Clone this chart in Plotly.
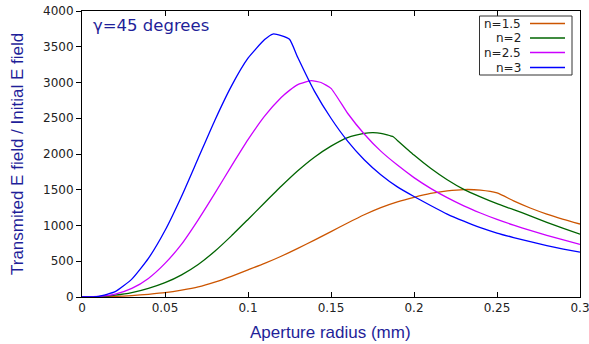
import plotly.graph_objects as go

# ---- data ----
series_names = ["n=1.5", "n=2", "n=2.5", "n=3"]
series_colors = ["#cc5500", "#006400", "#cc00ff", "#0000ff"]

x_n15 = [0, 0.01, 0.02, 0.03, 0.04, 0.05, 0.06, 0.07, 0.08, 0.09, 0.10, 0.11, 0.12, 0.13,
         0.14, 0.15, 0.16, 0.17, 0.18, 0.19, 0.20, 0.21, 0.22, 0.23, 0.24, 0.25,
         0.26, 0.27, 0.28, 0.29, 0.30]
y_n15 = [0, 2, 8, 20, 38, 60, 95, 140, 208, 290, 380, 470, 570, 680,
         795, 915, 1035, 1150, 1250, 1330, 1395, 1450, 1485, 1503, 1495, 1455,
         1345, 1245, 1160, 1087, 1021]

x_n2 = [0, 0.01, 0.02, 0.03, 0.04, 0.05, 0.06, 0.07, 0.08, 0.09, 0.10, 0.11, 0.12, 0.13,
        0.14, 0.15, 0.16, 0.17, 0.175, 0.18, 0.1875, 0.19, 0.20, 0.21, 0.22, 0.23, 0.24,
        0.25, 0.26, 0.27, 0.28, 0.29, 0.30]
y_n2 = [0, 5, 25, 60, 120, 200, 310, 455, 640, 855, 1085, 1318, 1548, 1765,
        1955, 2110, 2230, 2288, 2298, 2290, 2242, 2190, 1985, 1800, 1640, 1505, 1400,
        1305, 1222, 1135, 1045, 960, 878]

x_n25 = [0, 0.01, 0.02, 0.03, 0.04, 0.05, 0.06, 0.07, 0.08, 0.09, 0.10, 0.11, 0.12, 0.125,
         0.13, 0.138, 0.144, 0.15, 0.16, 0.17, 0.18, 0.19, 0.20, 0.21, 0.22, 0.23, 0.24,
         0.25, 0.26, 0.27, 0.28, 0.29, 0.30]
y_n25 = [0, 8, 40, 120, 260, 470, 740, 1080, 1450, 1830, 2200, 2530, 2790, 2890,
         2970, 3025, 3000, 2918, 2570, 2280, 2040, 1845, 1670, 1520, 1390, 1275, 1175,
         1085, 1005, 931, 863, 799, 737]

x_n3 = [0, 0.01, 0.02, 0.03, 0.04, 0.05, 0.06, 0.07, 0.08, 0.09, 0.10, 0.11, 0.115, 0.12,
        0.125, 0.13, 0.14, 0.15, 0.16, 0.17, 0.18, 0.19, 0.20, 0.21, 0.22, 0.23, 0.24,
        0.25, 0.26, 0.27, 0.28, 0.29, 0.30]
y_n3 = [0, 10, 75, 250, 540, 930, 1410, 1940, 2470, 2950, 3340, 3600, 3678, 3655,
        3604, 3350, 2880, 2500, 2180, 1920, 1710, 1540, 1405, 1280, 1160, 1060, 970,
        895, 832, 773, 719, 671, 628]

x_tickvals = [0, 0.05, 0.1, 0.15, 0.2, 0.25, 0.3]
x_ticktext = ["0", "0.05", "0.1", "0.15", "0.2", "0.25", "0.3"]
y_tickvals = [0, 500, 1000, 1500, 2000, 2500, 3000, 3500, 4000]

title_x = "Aperture radius (mm)"
title_y = "Transmited E field / Initial E field"
label_text = "γ=45 degrees"

xs = [x_n15, x_n2, x_n25, x_n3]
ys = [y_n15, y_n2, y_n25, y_n3]

navy = "#1f1f99"
W, H = 589, 344
L, R, T, B = 82, 9, 11, 47
pw, ph = W - L - R, H - T - B


def px(xp):
    return (xp - L) / pw


def py(yp):
    return (H - B - yp) / ph


fig = go.Figure()
for name, col, x, y in zip(series_names, series_colors, xs, ys):
    fig.add_trace(go.Scatter(x=x, y=y, mode="lines", name=name,
                             line=dict(color=col, width=1.3, shape="spline", smoothing=0.5),
                             showlegend=False))

annotations = [
    dict(text=label_text, x=px(91), y=py(26), xref="paper", yref="paper",
         xanchor="left", yanchor="middle", showarrow=False,
         font=dict(family="DejaVu Sans", size=16.5, color=navy)),
    dict(text=title_x, x=px(330), y=py(332), xref="paper", yref="paper",
         xanchor="center", yanchor="middle", showarrow=False,
         font=dict(family="Liberation Sans", size=17, color=navy)),
    dict(text=title_y, x=px(17), y=py(154), xref="paper", yref="paper",
         xanchor="center", yanchor="middle", showarrow=False, textangle=-90,
         font=dict(family="Liberation Sans", size=17, color=navy)),
]

shapes = [dict(type="rect", xref="paper", yref="paper",
               x0=px(479.5), x1=px(572), y0=py(75), y1=py(16),
               line=dict(color="#333333", width=1), fillcolor="white", layer="above")]
ys_leg = [23.5, 38, 52.5, 67.5]
for name, col, yl in zip(series_names, series_colors, ys_leg):
    annotations.append(dict(text=name, x=px(523), y=py(yl), xref="paper", yref="paper",
                            xanchor="right", yanchor="middle", showarrow=False,
                            font=dict(family="DejaVu Sans", size=12, color="#222222")))
    shapes.append(dict(type="line", xref="paper", yref="paper",
                       x0=px(530), x1=px(565), y0=py(yl), y1=py(yl),
                       line=dict(color=col, width=1.3), layer="above"))

fig.update_layout(
    width=W, height=H,
    margin=dict(l=L, r=R, t=T, b=B, pad=0, autoexpand=False),
    plot_bgcolor="white", paper_bgcolor="white",
    annotations=annotations, shapes=shapes,
    font=dict(family="DejaVu Sans", size=12, color="#222222"),
)
fig.update_xaxes(range=[0, 0.3], tickvals=x_tickvals, ticktext=x_ticktext, automargin=False,
                 ticklabeloverflow="allow",
                 showgrid=False, zeroline=False, showline=True, linecolor="black",
                 linewidth=1, mirror="ticks", ticks="inside", ticklen=5,
                 tickcolor="black", tickfont=dict(family="DejaVu Sans", size=12, color="#222222"))
fig.update_yaxes(range=[0, 4000], tickvals=y_tickvals, automargin=False,
                 ticklabeloverflow="allow",
                 showgrid=False, zeroline=False, showline=True, linecolor="black",
                 linewidth=1, mirror=True, ticks="outside", ticklen=5,
                 tickcolor="black", tickfont=dict(family="DejaVu Sans", size=12, color="#222222"))

fig.write_html("out.html")
